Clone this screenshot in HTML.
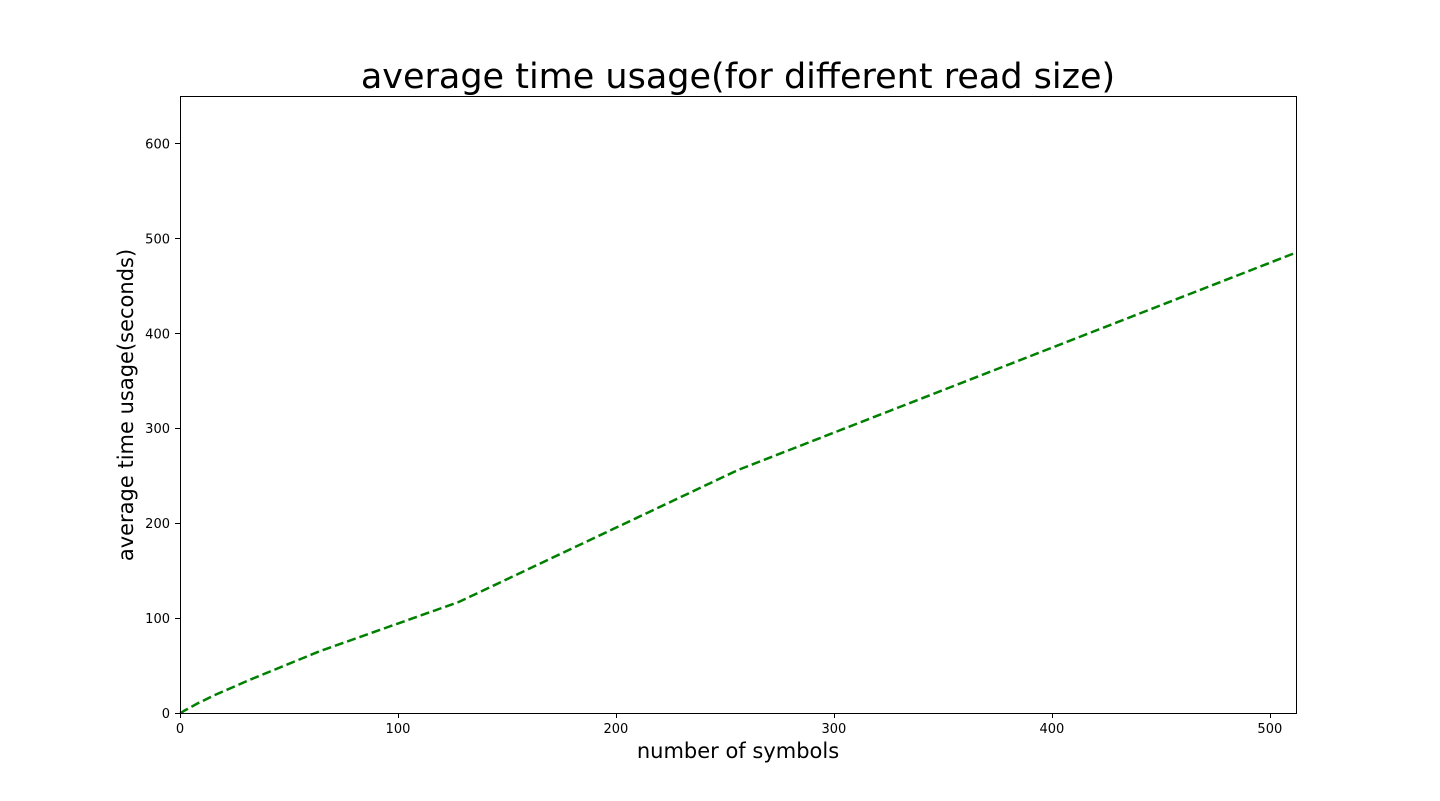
<!DOCTYPE html>
<html><head><meta charset="utf-8"><style>
body{margin:0;background:#fff;}
svg{display:block;font-family:"DejaVu Sans","Liberation Sans",sans-serif;}
</style></head><body>
<svg id="chart" width="1440" height="801" viewBox="0 0 1440 801">
<text x="738" y="88" font-size="35" text-anchor="middle">average time usage(for different read size)</text>
<g id="ticks"></g>
<path id="line" fill="none" stroke="#008000" stroke-width="2.5" stroke-dasharray="9,4"/>
<rect x="180.5" y="96.5" width="1116" height="617" fill="none" stroke="#000" stroke-width="1" shape-rendering="crispEdges"/>
<text x="738" y="758" font-size="21" text-anchor="middle">number of symbols</text>
<text transform="translate(133,405) rotate(-90)" font-size="21" text-anchor="middle">average time usage(seconds)</text>
</svg>
<script>
const xValues=[1,2,4,8,16,32,64,128,256,512];
const yValues=[1,2.5,5,10,19,35,65,117,256,485];
const xTicks=[0,100,200,300,400,500];
const yTicks=[0,100,200,300,400,500,600];
const L=180,R=1296,T=96,B=713,XMAX=512,YMAX=650;
const sx=v=>L+v/XMAX*(R-L), sy=v=>B-v/YMAX*(B-T);
const ns="http://www.w3.org/2000/svg", g=document.getElementById('ticks');
function mk(t,a){const e=document.createElementNS(ns,t);for(const k in a)e.setAttribute(k,a[k]);g.appendChild(e);return e;}
xTicks.forEach(v=>{
 const l=mk('line',{x1:Math.round(sx(v))+0.5,x2:Math.round(sx(v))+0.5,y1:B,y2:B+5,stroke:'#000','shape-rendering':'crispEdges'});
 
 
 const t=mk('text',{x:sx(v),y:B+20,'font-size':13,'text-anchor':'middle'});t.textContent=v;
 
 
});
yTicks.forEach(v=>{
 const l=mk('line',{x1:L-5,x2:L,y1:Math.round(sy(v))+0.5,y2:Math.round(sy(v))+0.5,stroke:'#000','shape-rendering':'crispEdges'});
 
 
 const t=mk('text',{x:L-10,y:sy(v)+5,'font-size':13,'text-anchor':'end'});t.textContent=v;
 
 
});
let d='M'+sx(0)+','+sy(0);
xValues.forEach((x,i)=>{d+=' L'+sx(x).toFixed(1)+','+sy(yValues[i]).toFixed(1);});
document.getElementById('line').setAttribute('d',d);
</script>
</body></html>
